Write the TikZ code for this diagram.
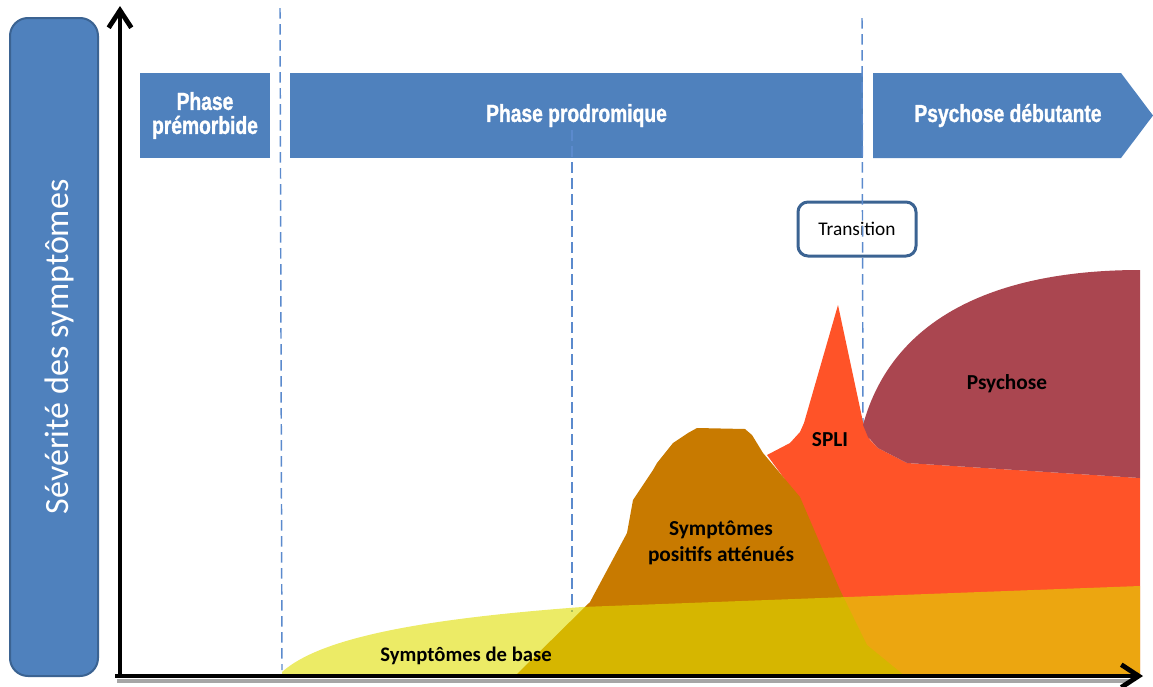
\documentclass[tikz,border=0pt]{standalone}
\usepackage{fontspec}
\setmainfont{Carlito}
\newfontfamily\phasefont[FakeStretch=0.78, BoldFeatures={FakeBold=1.2}]{Liberation Sans}
\usetikzlibrary{arrows.meta}
\definecolor{phaseblue}{RGB}{79,129,189}
\definecolor{borderblue}{RGB}{59,99,146}
\definecolor{dashblue}{RGB}{91,138,205}
\definecolor{basecol}{RGB}{224,222,0}
\definecolor{apscol}{RGB}{200,122,0}
\definecolor{splicol}{RGB}{255,83,40}
\definecolor{psycol}{RGB}{170,70,80}
\tikzset{
  phasebox/.style={fill=phaseblue, draw=none, inner sep=0pt, text=white,
    font=\phasefont\bfseries\fontsize{18.5}{18}\selectfont, align=center},
  sidebox/.style={fill=phaseblue, draw=borderblue, line width=1.5pt, rounded corners=13.5pt,
    minimum width=66pt, minimum height=493.5pt, inner sep=0pt},
  sidelabel/.style={text=white, rotate=90, font=\fontsize{25.5}{28}\selectfont},
  transbox/.style={fill=white, draw=borderblue, line width=2.25pt, rounded corners=7.5pt,
    minimum width=88.5pt, minimum height=40.5pt, font=\fontsize{14.5}{16}\selectfont},
  phaseline/.style={draw=dashblue, line width=1.1pt, dash pattern=on 8pt off 4pt},
  axis/.style={line width=3.6pt, -{Straight Barb[length=13pt,width=17pt]}},
  axisshadow/.style={line width=3pt, draw=black!35},
  arealabel/.style={font=\bfseries\fontsize{16}{19}\selectfont, align=center, text=black},
}
\begin{document}
\begin{tikzpicture}[x=0.75pt, y=-0.75pt]
\useasboundingbox (0,0) rectangle (1153,686);

% side label
\node[sidebox] (side) at (54,347) {};
\node[sidelabel] (sidetext) at (59,347) {Sévérité des symptômes};

% phase boxes
\node[phasebox, minimum width=97.5pt, minimum height=63.75pt] (pre) at (205,115.5)
  {Phase\\[0pt]prémorbide};
\node[phasebox, minimum width=429.75pt, minimum height=63.75pt] (prod) at (576.5,115.5)
  {Phase prodromique};
\fill[phaseblue] (873,73) -- (1121,73) -- (1153,115.5) -- (1121,158) -- (873,158) -- cycle;
\node[phasebox] (deb) at (1008,115.5) {Psychose débutante};

% transition box
\node[transbox] (trans) at (857,229) {Transition};

% dashed phase separators
\coordinate (d1t) at (280,8);   \coordinate (d1b) at (282,670);
\coordinate (d2t) at (572,130); \coordinate (d2b) at (572,612);
\coordinate (d3t) at (862,18);  \coordinate (d3b) at (863,428);
\draw[phaseline] (d1t) -- (d1b);
\draw[phaseline] (d2t) -- (d2b);
\draw[phaseline] (d3t) -- (d3b);

% SPLI area
\fill[splicol] (767,455) -- (790,443) -- (800,432) -- (804,423) -- (838,305) -- (863,422)
  -- (870,440) -- (878,448) -- (907,463) -- (1140,478) -- (1140,676) -- (840,676)
  -- (800,500) -- cycle;
% Psychose area
\fill[psycol] (863,425) .. controls (893,315) and (1000,270) .. (1140,270) -- (1140,478)
  -- (907,463) -- (878,448) -- (868,437) -- cycle;
% attenuated positive symptoms
\fill[apscol] (515,676) -- (590,602) -- (627,533) -- (633,500) -- (653,470) -- (657,463)
  -- (673,443) -- (688,433) -- (697,428) -- (745,429) -- (752,435) -- (763,453)
  -- (800,497) -- (840,590) -- (867,645) -- (905,676) -- cycle;
% basic symptoms
\fill[basecol, fill opacity=0.6] (282,676) -- (282,672) .. controls (320,638) and (420,619) .. (582,607)
  -- (1140,586) -- (1140,676) -- cycle;

% area labels
\node[arealabel, font=\bfseries\fontsize{15.5}{18}\selectfont] (base) at (466,656) {Symptômes de base};
\node[arealabel] (aps) at (721,543) {Symptômes\\positifs atténués};
\node[arealabel] (spli) at (830,440) {SPLI};
\node[arealabel] (psy) at (1007,384) {Psychose};

% axes
\coordinate (o) at (120,676);
\coordinate (ytop) at (120,6);
\coordinate (xs) at (115,676);
\coordinate (xend) at (1143,676);
\coordinate (shs) at (117,681);
\coordinate (she) at (1130,681);
\draw[axisshadow] (shs) -- (she);
\draw[axis] (o) -- (ytop);
\draw[axis] (xs) -- (xend);
\end{tikzpicture}
\end{document}
